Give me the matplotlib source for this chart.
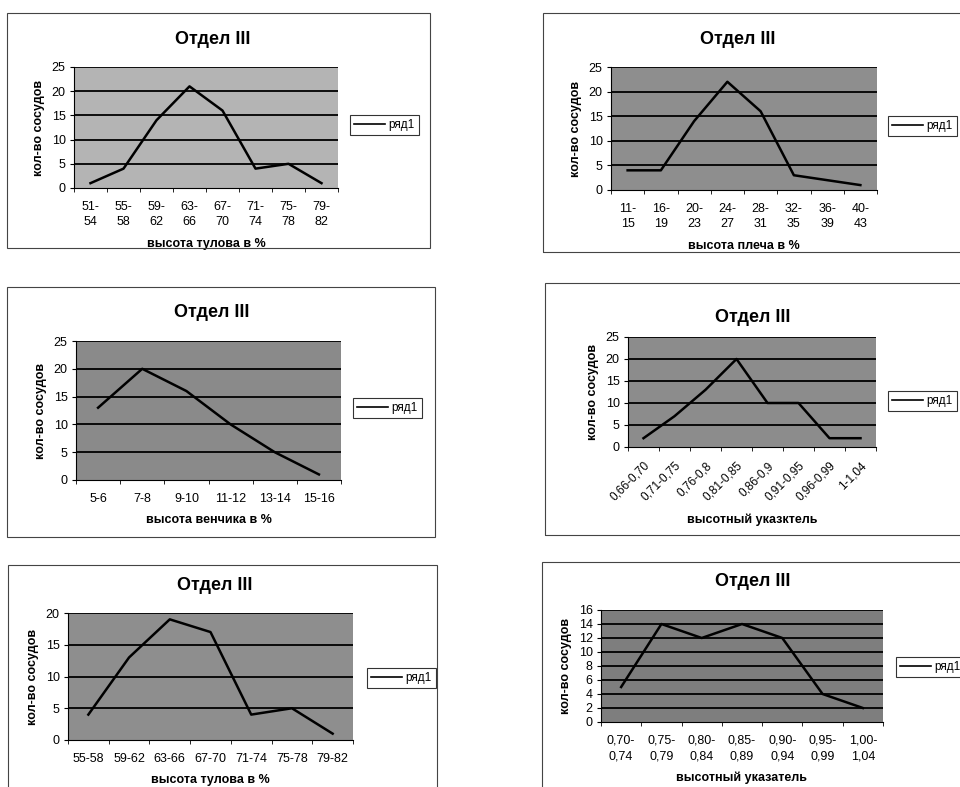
import matplotlib
matplotlib.use("Agg")
import matplotlib.pyplot as plt
from matplotlib.patches import Rectangle

plt.rcParams['font.family'] = ['Liberation Sans', 'DejaVu Sans']

# data
body_cats_a = ["51-\n54", "55-\n58", "59-\n62", "63-\n66", "67-\n70", "71-\n74", "75-\n78", "79-\n82"]
body_vals_a = [1, 4, 14, 21, 16, 4, 5, 1]

shoulder_cats = ["11-\n15", "16-\n19", "20-\n23", "24-\n27", "28-\n31", "32-\n35", "36-\n39", "40-\n43"]
shoulder_vals = [4, 4, 14, 22, 16, 3, 2, 1]

rim_cats = ["5-6", "7-8", "9-10", "11-12", "13-14", "15-16"]
rim_vals = [13, 20, 16, 10, 5, 1]

index_cats_a = ["0,66-0,70", "0,71-0,75", "0,76-0,8", "0,81-0,85",
                "0,86-0,9", "0,91-0,95", "0,96-0,99", "1-1,04"]
index_vals_a = [2, 7, 13, 20, 10, 10, 2, 2]

body_cats_b = ["55-58", "59-62", "63-66", "67-70", "71-74", "75-78", "79-82"]
body_vals_b = [4, 13, 19, 17, 4, 5, 1]

index_cats_b = ["0,70-\n0,74", "0,75-\n0,79", "0,80-\n0,84", "0,85-\n0,89",
                "0,90-\n0,94", "0,95-\n0,99", "1,00-\n1,04"]
index_vals_b = [5, 14, 12, 14, 12, 4, 2]

xlabels = ["высота тулова в %", "высота плеча в %", "высота венчика в %",
           "высотный указктель", "высота тулова в %", "высотный указатель"]
ylabel = "кол-во сосудов"
title = "Отдел III"
series_name = "ряд1"

W, H = 960, 787
fig = plt.figure(figsize=(W / 100, H / 100), dpi=100)


def fx(px):
    return px / W


def fy(py):
    return 1 - py / H


# layout in pixels: plot area (x0, x1, y0, y1), frame box, legend anchor, title pos, y range, bg
panels = [
    dict(cats=body_cats_a, vals=body_vals_a, plot=(74, 338, 67, 188), box=(7, 13, 430, 248),
         leg=(350, 125), tpos=(213, 40), ymax=25, ystep=5, bg="#b4b4b4", rot=0),
    dict(cats=shoulder_cats, vals=shoulder_vals, plot=(611, 877, 67, 190), box=(543, 13, 962, 252),
         leg=(888, 126), tpos=(738, 40), ymax=25, ystep=5, bg="#8e8e8e", rot=0),
    dict(cats=rim_cats, vals=rim_vals, plot=(76, 341, 341, 480), box=(7, 287, 435, 537),
         leg=(353, 408), tpos=(212, 312), ymax=25, ystep=5, bg="#8a8a8a", rot=0),
    dict(cats=index_cats_a, vals=index_vals_a, plot=(628, 876, 337, 447), box=(545, 283, 962, 535),
         leg=(888, 401), tpos=(753, 317), ymax=25, ystep=5, bg="#8c8c8c", rot=45),
    dict(cats=body_cats_b, vals=body_vals_b, plot=(68, 353, 613, 740), box=(8, 565, 437, 790),
         leg=(367, 678), tpos=(215, 585), ymax=20, ystep=5, bg="#8e8e8e", rot=0),
    dict(cats=index_cats_b, vals=index_vals_b, plot=(601, 883, 610, 722), box=(542, 562, 962, 790),
         leg=(896, 667), tpos=(753, 582), ymax=16, ystep=2, bg="#7e7e7e", rot=0),
]

for i, p in enumerate(panels):
    bx0, by0, bx1, by1 = p["box"]
    fig.patches.append(Rectangle((fx(bx0), fy(by1)), fx(bx1 - bx0), (by1 - by0) / H,
                                 transform=fig.transFigure, fill=False,
                                 edgecolor="#444444", linewidth=0.8))
    x0, x1, y0, y1 = p["plot"]
    ax = fig.add_axes([fx(x0), fy(y1), fx(x1 - x0), (y1 - y0) / H])
    ax.set_facecolor(p["bg"])
    n = len(p["cats"])
    xs = list(range(n))
    ax.plot(xs, p["vals"], color="black", linewidth=1.8, label=series_name, zorder=3)
    ax.set_xlim(-0.5, n - 0.5)
    ax.set_ylim(0, p["ymax"])
    yt = list(range(0, p["ymax"] + 1, p["ystep"]))
    ax.set_yticks(yt)
    for v in yt[1:]:
        ax.axhline(v, color="black", linewidth=1.3, zorder=2)
    ax.set_xticks(xs)
    ax.set_xticks([k - 0.5 for k in range(n + 1)], minor=True)
    if p["rot"]:
        ax.set_xticklabels(p["cats"], rotation=45, ha="right", rotation_mode="anchor", fontsize=8.5)
    else:
        ax.set_xticklabels(p["cats"], fontsize=9, linespacing=1.4)
    ax.tick_params(axis="x", which="major", length=0, pad=9)
    ax.tick_params(axis="x", which="minor", length=3, direction="out")
    ax.tick_params(axis="y", length=3, direction="out", labelsize=9, pad=3)
    for s in ["top", "right"]:
        ax.spines[s].set_visible(False)
    for s in ["left", "bottom"]:
        ax.spines[s].set_linewidth(0.8)
    ax.set_xlabel(xlabels[i], fontsize=9, fontweight="bold", labelpad=7)
    ax.set_ylabel(ylabel, fontsize=9, fontweight="bold", labelpad=5)
    fig.text(fx(p["tpos"][0]), fy(p["tpos"][1]), title, ha="center", va="center",
             fontsize=13, fontweight="bold")
    lx, ly = p["leg"]
    leg = ax.legend(loc="center left", bbox_to_anchor=(fx(lx), fy(ly)), bbox_transform=fig.transFigure,
                    fontsize=8.5, frameon=True, fancybox=False, handlelength=2.6, handletextpad=0.3,
                    borderpad=0.35, borderaxespad=0)
    leg.get_frame().set_edgecolor("black")
    leg.get_frame().set_linewidth(0.8)
    for ln in leg.get_lines():
        ln.set_linewidth(1.2)

fig.savefig("out.png", dpi=100)
